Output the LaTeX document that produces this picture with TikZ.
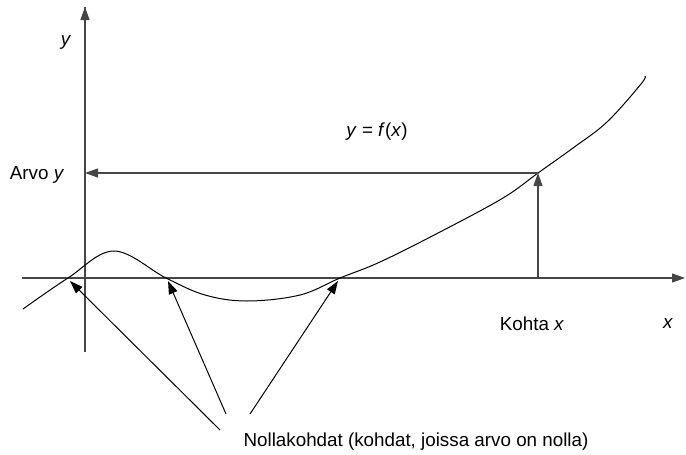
\documentclass[tikz,border=0pt]{standalone}
\usepackage{fontspec}
\setmainfont{Liberation Sans}
\usetikzlibrary{arrows.meta}
\definecolor{axisline}{RGB}{70,70,70}

\begin{document}
\begin{tikzpicture}[
  x=0.5pt, y=-0.5pt,
  >={Triangle[length=6.5pt,width=4.5pt]},
  axis/.style={draw=axisline, line width=0.6pt},
  val/.style={->, draw=axisline, line width=0.6pt},
  pnt/.style={->, draw=black, line width=0.5pt},
  curve/.style={draw=black, line width=0.5pt},
  lbl/.style={font=\fontsize{9.4}{11}\selectfont, inner sep=0pt}
]
\useasboundingbox (0,0) rectangle (686,455);

% axes
\coordinate (ybot) at (85,352);
\coordinate (ytop) at (85,7);
\coordinate (xlft) at (22,278);
\coordinate (xrgt) at (685,278);
\draw[axis] (ybot) -- (ytop);
\draw[axis, ->] (xlft) -- (xrgt);
\draw[axis, ->] (85,20) -- (ytop);

% the function
\draw[curve] plot[smooth, tension=0.6] coordinates {
  (23,309) (68,278) (114,251) (166,278) (205,295) (247,301) (300,295)
  (340,278) (380,262) (440,232) (503,198) (538,173) (573,148) (607,122)
  (641,84) (645,76)};

% value read-off
\coordinate (kx) at (538,278);
\coordinate (fy) at (538,173);
\coordinate (vy) at (85,173);
\draw[val] (kx) -- (fy);
\draw[val] (fy) -- (vy);

% labels
\node[lbl] (ylab) at (66,42) {\textit{y}};
\node[lbl] (arvo) at (37,175) {Arvo \textit{y}};
\node[lbl] (func) at (377,132) {\textit{y} = \textit{f}(\textit{x})};
\node[lbl] (kohta) at (532,324) {Kohta \textit{x}};
\node[lbl] (xlab) at (668,324) {\textit{x}};
\node[lbl] (nolla) at (416,442) {Nollakohdat (kohdat, joissa arvo on nolla)};

% zeros
\coordinate (z1) at (70,281);
\coordinate (z2) at (168,281);
\coordinate (z3) at (338,281);
\coordinate (s1) at (220,430);
\coordinate (s2) at (226,414);
\coordinate (s3) at (250,414);
\draw[pnt] (s1) -- (z1);
\draw[pnt] (s2) -- (z2);
\draw[pnt] (s3) -- (z3);
\end{tikzpicture}
\end{document}
